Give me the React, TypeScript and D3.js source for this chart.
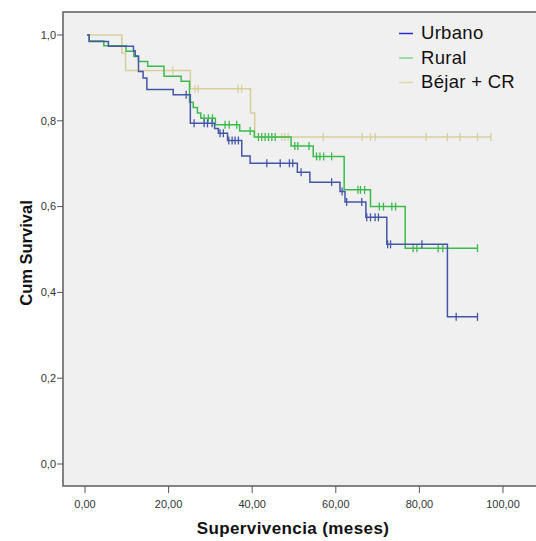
import React from "react";
import * as d3 from "d3";

// ---- Data ----
const seriesNames = ["Urbano", "Rural", "Béjar + CR"];

// Urbano: step times (months) and survival after each drop
const urbanoStepT = [1.0, 5.6, 11.6, 12.0, 12.8, 13.9, 14.8, 21.1, 25.2, 31.0, 31.9, 34.1, 37.5, 39.5, 50.8, 53.8, 61.0, 62.2, 67.2, 72.2, 86.7];
const urbanoStepS = [0.985, 0.974, 0.963, 0.951, 0.915, 0.900, 0.873, 0.861, 0.794, 0.782, 0.771, 0.754, 0.718, 0.701, 0.680, 0.657, 0.635, 0.611, 0.575, 0.512, 0.343];
const urbanoCensT = [24.2, 26.1, 28.5, 29.3, 30.4, 32.3, 33.1, 34.4, 35.2, 35.9, 36.7, 43.5, 46.7, 48.9, 49.7, 51.7, 59.0, 61.5, 62.6, 66.2, 67.4, 68.3, 69.4, 70.2, 72.4, 73.1, 80.6, 88.8, 93.9];

// Rural
const ruralStepT = [1.0, 4.5, 9.8, 11.7, 12.8, 15.0, 18.9, 23.0, 25.0, 25.9, 26.9, 27.7, 31.2, 37.0, 40.5, 49.3, 54.6, 62.0, 68.3, 76.6];
const ruralStepS = [0.986, 0.975, 0.962, 0.950, 0.938, 0.927, 0.904, 0.892, 0.843, 0.831, 0.818, 0.806, 0.791, 0.776, 0.762, 0.741, 0.717, 0.639, 0.600, 0.503];
const ruralCensT = [28.5, 29.5, 30.5, 33.5, 34.5, 36.3, 39.5, 41.5, 42.3, 43.1, 43.9, 44.7, 45.5, 50.2, 50.9, 53.6, 55.4, 56.2, 57.1, 59.0, 65.3, 65.9, 66.9, 70.4, 71.4, 73.4, 74.3, 78.5, 79.4, 84.5, 85.6, 93.9];

// Béjar + CR
const bejarStepT = [8.8, 9.7, 25.2, 39.6, 40.6];
const bejarStepS = [0.958, 0.917, 0.875, 0.818, 0.762];
const bejarCensT = [21.0, 26.3, 27.1, 36.6, 37.5, 47.1, 47.8, 48.6, 57.0, 66.3, 68.3, 69.4, 81.6, 86.7, 89.7, 93.9, 97.1];

const startT = 0.5;

const xTicks = [0, 20, 40, 60, 80, 100];
const xTickLabels = ["0,00", "20,00", "40,00", "60,00", "80,00", "100,00"];
const yTicks = [0, 0.2, 0.4, 0.6, 0.8, 1.0];
const yTickLabels = ["0,0", "0,2", "0,4", "0,6", "0,8", "1,0"];

const lineColors = ["#4556a8", "#3cbb4c", "#d6cf9c"];
const legendColors = ["#2a2ad8", "#7fd492", "#ddd8aa"];

const FONT = "'Liberation Sans', Arial, Helvetica, sans-serif";

export default function App() {
  const W = 536, H = 541;
  const frame = { left: 63, top: 12, bottom: 486, right: 548 };
  const x = d3.scaleLinear().domain([0, 100]).range([85, 503]);
  const y = d3.scaleLinear().domain([0, 1]).range([464, 35]);

  const series = [
    { t: urbanoStepT, s: urbanoStepS, c: urbanoCensT },
    { t: ruralStepT, s: ruralStepS, c: ruralCensT },
    { t: bejarStepT, s: bejarStepS, c: bejarCensT },
  ];

  const line = d3
    .line<[number, number]>()
    .x((d) => x(d[0]))
    .y((d) => y(d[1]))
    .curve(d3.curveStepAfter);

  const survAt = (ser: { t: number[]; s: number[] }, tt: number) => {
    let v = 1;
    for (let i = 0; i < ser.t.length; i++) if (ser.t[i] <= tt) v = ser.s[i];
    return v;
  };

  const order = [2, 1, 0];

  return (
    <svg width={W} height={H} style={{ position: "absolute", left: 0, top: 0, background: "#fff" }}>
      <rect x={frame.left} y={frame.top} width={frame.right - frame.left} height={frame.bottom - frame.top} fill="#f0f0f0" stroke="#666" strokeWidth={1.6} />
      {/* y ticks */}
      {yTicks.map((v, i) => (
        <g key={"y" + i}>
          <line x1={frame.left - 6} x2={frame.left} y1={y(v)} y2={y(v)} stroke="#555" strokeWidth={1} />
          <text x={frame.left - 7} y={y(v)} dy="0.35em" textAnchor="end" fontFamily={FONT} fontSize={11} fill="#333">
            {yTickLabels[i]}
          </text>
        </g>
      ))}
      {/* x ticks */}
      {xTicks.map((v, i) => (
        <g key={"x" + i}>
          <line x1={x(v)} x2={x(v)} y1={frame.bottom} y2={frame.bottom + 7} stroke="#555" strokeWidth={1} />
          <text x={x(v)} y={508} textAnchor="middle" fontFamily={FONT} fontSize={11} fill="#333">
            {xTickLabels[i]}
          </text>
        </g>
      ))}
      {/* series */}
      {order.map((k) => {
        const ser = series[k];
        const lastT = Math.max(ser.t[ser.t.length - 1], ser.c[ser.c.length - 1]);
        const pts: [number, number][] = [[startT, 1]];
        ser.t.forEach((tt, i) => pts.push([tt, ser.s[i]]));
        pts.push([lastT, ser.s[ser.s.length - 1]]);
        return (
          <g key={"s" + k}>
            <path d={line(pts) || ""} fill="none" stroke={lineColors[k]} strokeWidth={1.5} />
            {ser.c.map((ct, j) => (
              <line key={j} x1={x(ct)} x2={x(ct)} y1={y(survAt(ser, ct)) - 4} y2={y(survAt(ser, ct)) + 4} stroke={lineColors[k]} strokeWidth={1.3} />
            ))}
          </g>
        );
      })}
      {/* legend */}
      {seriesNames.map((name, i) => (
        <g key={"l" + i}>
          <line x1={399} x2={413} y1={33.5 + i * 24.5} y2={33.5 + i * 24.5} stroke={legendColors[i]} strokeWidth={1.5} />
          <text x={421} y={39 + i * 24.5} fontFamily={FONT} fontSize={18.5} letterSpacing={0.3} fill="#111">
            {name}
          </text>
        </g>
      ))}
      {/* axis titles */}
      <text x={293} y={534} textAnchor="middle" fontFamily={FONT} fontSize={17} letterSpacing={0.4} fontWeight="bold" fill="#111">
        Supervivencia (meses)
      </text>
      <text transform={`translate(32,253) rotate(-90)`} textAnchor="middle" fontFamily={FONT} fontSize={16.5} fontWeight="bold" fill="#111">
        Cum Survival
      </text>
    </svg>
  );
}
